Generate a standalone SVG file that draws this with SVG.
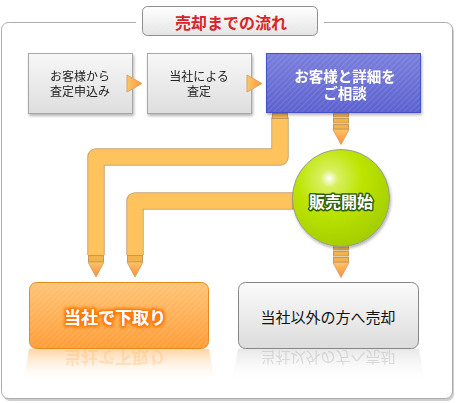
<svg xmlns="http://www.w3.org/2000/svg" width="456" height="403" viewBox="0 0 456 403">
<defs>
<style>
.t{font-family:"Noto Sans CJK JP","Noto Sans",sans-serif;text-anchor:middle}
.t2{font-family:"Liberation Sans","Noto Sans CJK JP",sans-serif;text-anchor:middle}
.grey{fill:url(#gGrey);stroke:#a8a8a8;stroke-width:1}
.cap{fill:#f2b24c;stroke:#c49a5c;stroke-width:1}
.pipeO{fill:none;stroke:#c6a474;stroke-width:17.5;stroke-linejoin:round}
.pipeI{fill:none;stroke:#ffc35e;stroke-width:15.5;stroke-linejoin:round}
</style>
<linearGradient id="gGrey" x1="0" y1="0" x2="0" y2="1"><stop offset="0" stop-color="#f7f7f7"/><stop offset="1" stop-color="#dedede"/></linearGradient>
<linearGradient id="gTitle" x1="0" y1="0" x2="0" y2="1"><stop offset="0" stop-color="#ffffff"/><stop offset="1" stop-color="#e4e4e4"/></linearGradient>
<linearGradient id="gBlue" x1="0" y1="0" x2="0" y2="1"><stop offset="0" stop-color="#7a7edc"/><stop offset="1" stop-color="#5b61cf"/></linearGradient>
<linearGradient id="gOrange" x1="0" y1="0" x2="0" y2="1"><stop offset="0" stop-color="#ffc476"/><stop offset="1" stop-color="#ff9c36"/></linearGradient>
<linearGradient id="gBtnGrey" x1="0" y1="0" x2="0" y2="1"><stop offset="0" stop-color="#fbfbfb"/><stop offset="1" stop-color="#dcdcdc"/></linearGradient>
<linearGradient id="gTri" x1="0" y1="0" x2="0" y2="1"><stop offset="0" stop-color="#ffc466"/><stop offset="1" stop-color="#ff8a3a"/></linearGradient>
<linearGradient id="gTriR" x1="0" y1="0" x2="1" y2="0"><stop offset="0" stop-color="#ffc466"/><stop offset="1" stop-color="#ff9a3a"/></linearGradient>
<linearGradient id="gRefO" x1="0" y1="0" x2="0" y2="1"><stop offset="0" stop-color="#ffb25a" stop-opacity="0.55"/><stop offset="1" stop-color="#ffffff" stop-opacity="0"/></linearGradient>
<linearGradient id="gRefG" x1="0" y1="0" x2="0" y2="1"><stop offset="0" stop-color="#d8d8d8" stop-opacity="0.6"/><stop offset="1" stop-color="#ffffff" stop-opacity="0"/></linearGradient>
<radialGradient id="gBall" cx="0.38" cy="0.3" r="0.75"><stop offset="0" stop-color="#ffffff"/><stop offset="0.12" stop-color="#d8f060"/><stop offset="0.45" stop-color="#bde400"/><stop offset="1" stop-color="#a2cc00"/></radialGradient>
<pattern id="hatch" width="4" height="4" patternUnits="userSpaceOnUse" patternTransform="rotate(45)"><rect width="1.2" height="4" fill="#ffffff" fill-opacity="0.12"/></pattern>
<filter id="sh" x="-10%" y="-10%" width="130%" height="130%"><feGaussianBlur in="SourceAlpha" stdDeviation="1.5"/><feOffset dx="1" dy="2"/><feComponentTransfer><feFuncA type="linear" slope="0.3"/></feComponentTransfer><feMerge><feMergeNode/><feMergeNode in="SourceGraphic"/></feMerge></filter>
<filter id="tsh" x="-10%" y="-20%" width="120%" height="150%"><feOffset in="SourceAlpha" dx="0.8" dy="0.8"/><feGaussianBlur stdDeviation="0.5"/><feComponentTransfer><feFuncA type="linear" slope="0.45"/></feComponentTransfer><feFlood flood-color="#2a2d80"/><feComposite operator="in" in2="SourceAlpha"/><feMerge><feMergeNode/><feMergeNode in="SourceGraphic"/></feMerge></filter>
<filter id="glowO" x="-20%" y="-40%" width="140%" height="180%"><feMorphology in="SourceAlpha" operator="dilate" radius="1.5" result="d"/><feGaussianBlur in="d" stdDeviation="1.5" result="b"/><feFlood flood-color="#ff7a00"/><feComposite in2="b" operator="in"/><feMerge><feMergeNode/><feMergeNode in="SourceGraphic"/></feMerge></filter>
<g id="arrowDown"><path d="M0,0 L16,0 L8,15 Z" fill="url(#gTri)" stroke="#d6a66a" stroke-width="1"/></g>
<g id="arrowRight"><path d="M0,0 L15,8.5 L0,17 Z" fill="url(#gTriR)" stroke="#d6a66a" stroke-width="1"/></g>
</defs>
<rect width="456" height="403" fill="#ffffff"/>
<g id="frame">
<rect x="3" y="24" width="451" height="377" rx="7" fill="#cfcfcf"/>
<rect x="1.5" y="22.5" width="451" height="376" rx="7" fill="#ffffff" stroke="#ababab" stroke-width="1"/>
<rect x="136" y="18" width="188" height="10" fill="#ffffff"/>
</g>
<g id="title">
<rect x="142.5" y="6.5" width="175" height="29" rx="5" fill="url(#gTitle)" stroke="#8e8e8e" stroke-width="1"/>
<rect x="143" y="7" width="174" height="28" rx="5" fill="url(#hatch)" opacity="0.5"/>
<text x="231" y="29" class="t" font-size="16" font-weight="bold" fill="#d9232b">売却までの流れ</text>
</g>
<g id="connectors">
<path class="pipeO" d="M280,117 V157 H96 V255"/>
<path class="pipeI" d="M280,117 V157 H96 V255"/>
<path class="pipeO" d="M294,201 H135 V255"/>
<path class="pipeI" d="M294,201 H135 V255"/>
<rect class="cap" x="272.5" y="113.5" width="15" height="5"/>
<rect x="293" y="193.5" width="5" height="15" fill="#e0a420" stroke="#b48a40" stroke-width="1"/>
<rect class="cap" x="88.5" y="255.5" width="15" height="6"/>
<use href="#arrowDown" x="88" y="262"/>
<rect class="cap" x="127.5" y="255.5" width="15" height="6"/>
<use href="#arrowDown" x="127" y="262"/>
<rect class="cap" x="333.5" y="112.5" width="15" height="4.5"/>
<rect class="cap" x="333.5" y="118.5" width="15" height="4.5"/>
<rect class="cap" x="333.5" y="124.5" width="15" height="4.5"/>
<use href="#arrowDown" x="333" y="129.5"/>
<rect class="cap" x="333.5" y="245.5" width="15" height="4.5"/>
<rect class="cap" x="333.5" y="251.5" width="15" height="4.5"/>
<rect class="cap" x="333.5" y="257.5" width="15" height="4.5"/>
<use href="#arrowDown" x="333" y="262.5"/>
</g>
<g id="node1" filter="url(#sh)">
<rect class="grey" x="28.5" y="53.5" width="104" height="60"/>
<text class="t2" font-size="12" fill="#222"><tspan x="80" y="81">お客様から</tspan><tspan x="80" y="96">査定申込み</tspan></text>
</g>
<g id="node2" filter="url(#sh)">
<rect class="grey" x="147.5" y="53.5" width="104" height="60"/>
<text class="t2" font-size="12" fill="#222"><tspan x="199" y="81">当社による</tspan><tspan x="199" y="96">査定</tspan></text>
</g>
<g id="arrows">
<use href="#arrowRight" x="127" y="75"/>
<use href="#arrowRight" x="247" y="75"/>
</g>
<g id="node3">
<rect x="266.5" y="53.5" width="154" height="59" fill="url(#gBlue)" stroke="#4650c6" stroke-width="1" filter="url(#sh)"/>
<rect x="267" y="54" width="153" height="58" fill="url(#hatch)"/>
<text class="t2" font-size="14.5" font-weight="bold" fill="#ffffff" filter="url(#tsh)"><tspan x="345" y="82">お客様と詳細を</tspan><tspan x="345" y="99">ご相談</tspan></text>
</g>
<g id="node4">
<circle cx="341" cy="198" r="48.5" fill="url(#gBall)" stroke="#9a9a9a" stroke-width="1" filter="url(#sh)"/>
<text x="341" y="208" class="t" font-size="16" font-weight="bold" fill="#ffffff" stroke="#2f5e12" stroke-width="3" stroke-linejoin="round" paint-order="stroke">販売開始</text>
</g>
<g id="node5">
<path d="M29,349 L209,349 L215,383 L23,383 Z" fill="url(#gRefO)"/>
<text x="115" y="-351" class="t" font-size="17" font-weight="bold" fill="#ffb560" opacity="0.3" transform="scale(1,-1)">当社で下取り</text>
<rect x="29.5" y="282.5" width="179" height="66" rx="7" fill="url(#gOrange)" stroke="#ea8a1e" stroke-width="1"/>
<rect x="30" y="283" width="178" height="65" rx="7" fill="url(#hatch)"/>
<text x="115" y="324" class="t" font-size="17" font-weight="bold" fill="#ffffff" filter="url(#glowO)">当社で下取り</text>
</g>
<g id="node6">
<path d="M238,349 L419,349 L425,383 L232,383 Z" fill="url(#gRefG)"/>
<text x="328" y="-352" class="t" font-size="15" fill="#999" opacity="0.3" transform="scale(1,-1)">当社以外の方へ売却</text>
<rect x="238.5" y="282.5" width="180" height="66" rx="7" fill="url(#gBtnGrey)" stroke="#868686" stroke-width="1"/>
<text x="328" y="323" class="t" font-size="15" fill="#111">当社以外の方へ売却</text>
</g>
</svg>
